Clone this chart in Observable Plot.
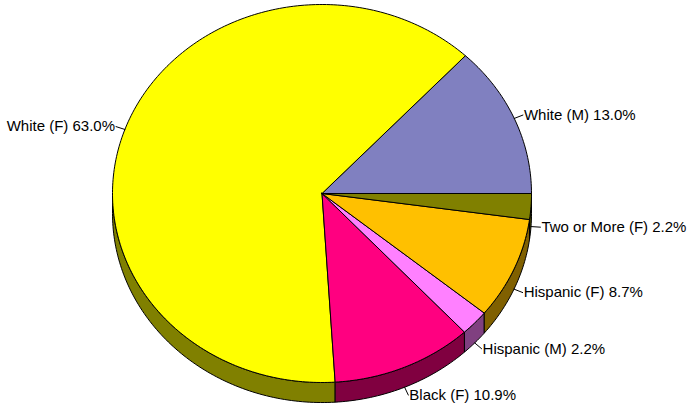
<!DOCTYPE html>
<html>
<head>
<meta charset="utf-8">
<script src="https://cdn.jsdelivr.net/npm/d3@7"></script>
<script src="https://cdn.jsdelivr.net/npm/@observablehq/plot@0.6"></script>
<style>
  html, body { margin: 0; padding: 0; background: #fff; }
  svg { display: block; }
</style>
</head>
<body>
<div id="chart"></div>
<script>
const categories = ["White (M)", "White (F)", "Black (F)", "Hispanic (M)", "Hispanic (F)", "Two or More (F)"];
const percents = [13.0, 63.0, 10.9, 2.2, 8.7, 2.2];
const topColors = ["#8080C0", "#FFFF00", "#FF0080", "#FF80FF", "#FFC000", "#808000"];
const sideColors = ["#404060", "#808000", "#800040", "#804080", "#806000", "#404000"];

const depth = 0.106; // thickness of the pie in y-units
const rad = d => d * Math.PI / 180;
const pt = (a, r = 1, dz = 0) => ({x: r * Math.cos(rad(a)), y: r * Math.sin(rad(a)) - dz});

// build slices
const total = d3.sum(percents);
let acc = 0;
const slices = categories.map((c, i) => {
  const a0 = acc / total * 360;
  acc += percents[i];
  const a1 = acc / total * 360;
  return {name: c, value: percents[i], a0, a1, mid: (a0 + a1) / 2, top: topColors[i], side: sideColors[i]};
});

const arc = (a0, a1, r, dz) => {
  const n = Math.max(2, Math.ceil((a1 - a0) / 1));
  return d3.range(n + 1).map(k => pt(a0 + (a1 - a0) * k / n, r, dz));
};

const topPts = [];
const sidePts = [];
const leaderPts = [];
const labels = [];
slices.forEach((s, i) => {
  // top face
  const poly = [{x: 0, y: 0}, ...arc(s.a0, s.a1, 1, 0), {x: 0, y: 0}];
  poly.forEach(p => topPts.push({...p, id: i, fill: s.top}));
  // side wall (visible part: 180..360)
  const s0 = Math.max(s.a0, 180), s1 = Math.min(s.a1, 360);
  if (s0 < s1) {
    const up = arc(s0, s1, 1, 0);
    const dn = arc(s0, s1, 1, depth).reverse();
    [...up, ...dn, up[0]].forEach(p => sidePts.push({...p, id: i, fill: s.side}));
  }
  // leader
  const dz = Math.sin(rad(s.mid)) < 0 ? depth : 0;
  const p0 = pt(s.mid, 1, dz), p1 = pt(s.mid, 1.045, dz);
  leaderPts.push({...p0, id: i}, {...p1, id: i});
  labels.push({x: p1.x, y: p1.y, text: `${s.name} ${s.value.toFixed(1)}%`, left: Math.cos(rad(s.mid)) < 0});
});

const chart = Plot.plot({
  width: 688,
  height: 404,
  margin: 0,
  x: {domain: [-1, 1], range: [112, 531], axis: null},
  y: {domain: [-1, 1], range: [382, 4], axis: null},
  style: {background: "#fff"},
  marks: [
    Plot.line(sidePts, {x: "x", y: "y", z: "id", fill: "fill", stroke: "#000", strokeWidth: 1, curve: "linear"}),
    Plot.line(topPts, {x: "x", y: "y", z: "id", fill: "fill", stroke: "#000", strokeWidth: 1, curve: "linear"}),
    Plot.line(leaderPts, {x: "x", y: "y", z: "id", stroke: "#000", strokeWidth: 1}),
    Plot.text(labels.filter(d => !d.left), {x: "x", y: "y", text: "text", textAnchor: "start", dx: 1, fontSize: 15, fontFamily: "Liberation Sans, Arial, sans-serif", fill: "#000"}),
    Plot.text(labels.filter(d => d.left), {x: "x", y: "y", text: "text", textAnchor: "end", dx: -1, fontSize: 15, fontFamily: "Liberation Sans, Arial, sans-serif", fill: "#000"})
  ]
});
document.getElementById("chart").appendChild(chart);
</script>
</body>
</html>
